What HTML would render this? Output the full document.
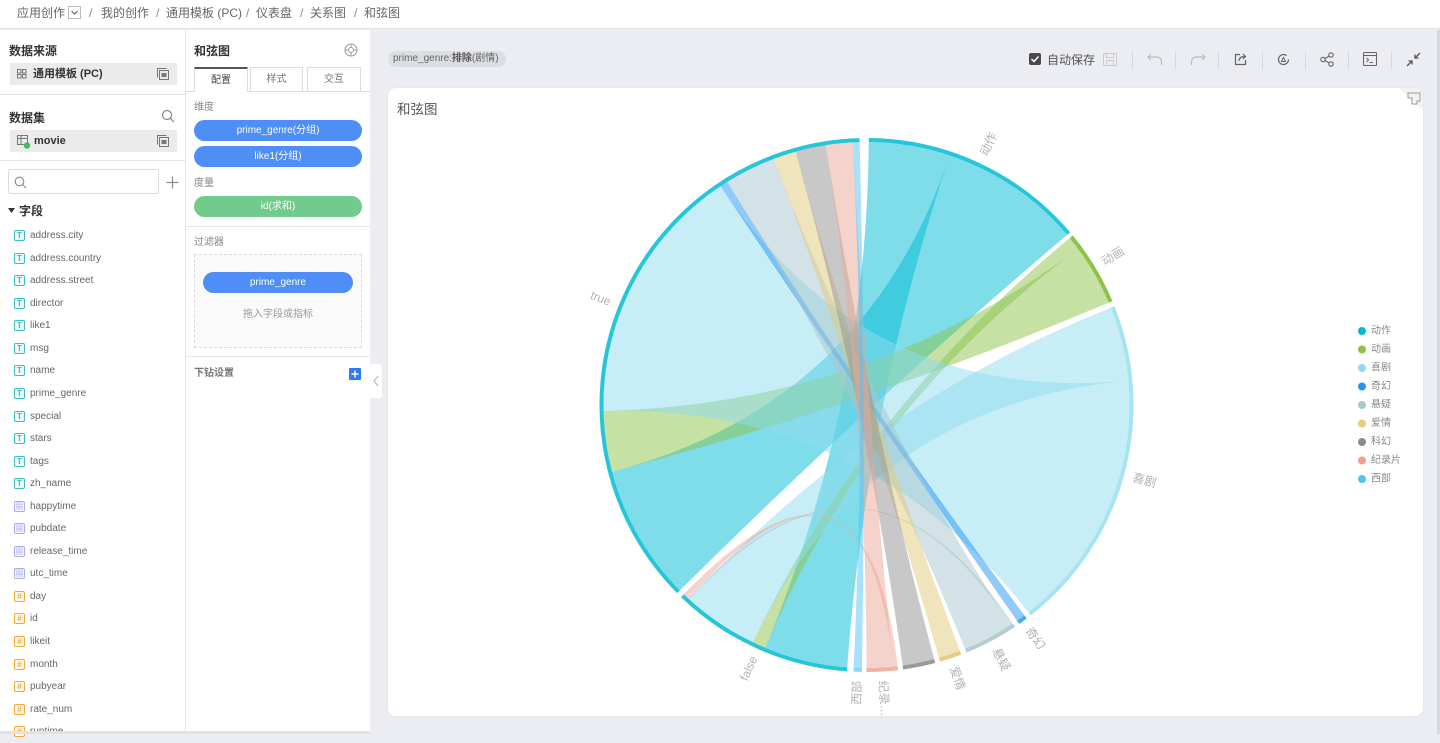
<!DOCTYPE html>
<html><head><meta charset="utf-8">
<style>
*{margin:0;padding:0;box-sizing:border-box}
body{width:1440px;height:734px;overflow:hidden;background:#ebedf2;font-family:"Liberation Sans","Noto Sans CJK SC",sans-serif;position:relative;color:#555}
.a{position:absolute;white-space:nowrap}
.t12{font-size:12px;line-height:14px}
.t11{font-size:11px;line-height:14px}
.t10{font-size:10px;line-height:14px}
.b{font-weight:bold}
.pill{position:absolute;border-radius:11px;color:#fff;font-size:10px;text-align:center;line-height:21px;height:21px}
.sep{position:absolute;height:1px;background:#e6e6e6}
.row{height:22.56px;display:flex;align-items:center;font-size:10px;color:#666}
.ic{width:11px;height:11px;border:1px solid;border-radius:2px;margin-left:14px;margin-right:5px;font-size:8px;line-height:9px;text-align:center;font-weight:bold}
.it{border-color:#3dbdbd;color:#3dbdbd;background:#eefafa}
.id{border-color:#aab0ea;color:#aab0ea;background:#f4f5fd}
.in{border-color:#f3a83a;color:#f3a83a;background:#fef7ec}
.vs{position:absolute;width:1px;height:17px;top:52px;background:#d6d8dc}
</style></head><body>

<!-- breadcrumb -->
<div class="a" style="left:0;top:0;width:1440px;height:29px;background:#fff;border-bottom:1px solid #e4e4e4"></div>
<div class="a t12" style="left:17px;top:6px;color:#666">应用创作</div>
<div class="a" style="left:68px;top:6px;width:13px;height:13px;border:1px solid #bbb;background:#fff"><svg width="11" height="11" style="position:absolute;left:0;top:0"><polyline points="2.5,4 5.5,7 8.5,4" fill="none" stroke="#666" stroke-width="1.2"/></svg></div>
<div class="a t12" style="left:89px;top:6px;color:#888">/</div>
<div class="a t12" style="left:101px;top:6px;color:#666">我的创作</div>
<div class="a t12" style="left:156px;top:6px;color:#888">/</div>
<div class="a t12" style="left:166px;top:6px;color:#666">通用模板 (PC)</div>
<div class="a t12" style="left:246px;top:6px;color:#888">/</div>
<div class="a t12" style="left:256px;top:6px;color:#666">仪表盘</div>
<div class="a t12" style="left:300px;top:6px;color:#888">/</div>
<div class="a t12" style="left:310px;top:6px;color:#666">关系图</div>
<div class="a t12" style="left:354px;top:6px;color:#888">/</div>
<div class="a t12" style="left:364px;top:6px;color:#666">和弦图</div>

<!-- left panel -->
<div class="a" style="left:0;top:30px;width:186px;height:704px;background:#fff;border-right:1px solid #e4e4e4"></div>
<div class="a t12 b" style="left:9px;top:44px;color:#333">数据来源</div>
<div class="a" style="left:10px;top:63px;width:167px;height:22px;background:#ebebeb"></div>
<svg class="a" style="left:17px;top:69px" width="10" height="10"><g fill="none" stroke="#777" stroke-width="1"><rect x="0.5" y="0.5" width="3.5" height="3.5"/><rect x="5.5" y="0.5" width="3.5" height="3.5"/><rect x="0.5" y="5.5" width="3.5" height="3.5"/><rect x="5.5" y="5.5" width="3.5" height="3.5"/></g></svg>
<div class="a t11 b" style="left:33px;top:67px;color:#333">通用模板 (PC)</div>
<svg class="a" style="left:157px;top:68px" width="12" height="12"><g fill="none" stroke="#777"><rect x="2.5" y="2.5" width="9" height="9"/><path d="M0.5 9.5V0.5H9.5"/></g><rect x="4.5" y="5" width="5" height="4" fill="#777"/></svg>
<div class="sep" style="left:0;top:94px;width:185px"></div>
<div class="a t12 b" style="left:9px;top:111px;color:#333">数据集</div>
<svg class="a" style="left:161px;top:109px" width="14" height="14"><circle cx="6" cy="6" r="4.5" fill="none" stroke="#888" stroke-width="1.2"/><line x1="9.3" y1="9.3" x2="13" y2="13" stroke="#888" stroke-width="1.2"/></svg>
<div class="a" style="left:10px;top:130px;width:167px;height:22px;background:#ebebeb"></div>
<svg class="a" style="left:17px;top:135px" width="14" height="14"><rect x="0.5" y="0.5" width="10" height="9" fill="none" stroke="#777"/><line x1="0.5" y1="3.5" x2="10.5" y2="3.5" stroke="#777"/><line x1="4" y1="0.5" x2="4" y2="9.5" stroke="#777"/><circle cx="10" cy="10.5" r="3.2" fill="#3cba5c"/></svg>
<div class="a t11 b" style="left:34px;top:134px;color:#333">movie</div>
<svg class="a" style="left:157px;top:135px" width="12" height="12"><g fill="none" stroke="#777"><rect x="2.5" y="2.5" width="9" height="9"/><path d="M0.5 9.5V0.5H9.5"/></g><rect x="4.5" y="5" width="5" height="4" fill="#777"/></svg>
<div class="sep" style="left:0;top:160px;width:185px"></div>
<div class="a" style="left:8px;top:169px;width:151px;height:25px;border:1px solid #dcdcdc;border-radius:2px"></div>
<svg class="a" style="left:14px;top:176px" width="13" height="13"><circle cx="5.5" cy="5.5" r="4.3" fill="none" stroke="#888" stroke-width="1.1"/><line x1="8.6" y1="8.6" x2="12" y2="12" stroke="#888" stroke-width="1.1"/></svg>
<svg class="a" style="left:166px;top:176px" width="13" height="13"><line x1="6.5" y1="0.5" x2="6.5" y2="12.5" stroke="#888" stroke-width="1.2"/><line x1="0.5" y1="6.5" x2="12.5" y2="6.5" stroke="#888" stroke-width="1.2"/></svg>
<svg class="a" style="left:8px;top:208px" width="8" height="6"><polygon points="0,0 7,0 3.5,5" fill="#333"/></svg>
<div class="a t12 b" style="left:19px;top:204px;color:#333">字段</div>

<div class="a" style="left:0;top:224.4px;width:185px">
<div class="row"><span class="ic it">T</span>address.city</div>
<div class="row"><span class="ic it">T</span>address.country</div>
<div class="row"><span class="ic it">T</span>address.street</div>
<div class="row"><span class="ic it">T</span>director</div>
<div class="row"><span class="ic it">T</span>like1</div>
<div class="row"><span class="ic it">T</span>msg</div>
<div class="row"><span class="ic it">T</span>name</div>
<div class="row"><span class="ic it">T</span>prime_genre</div>
<div class="row"><span class="ic it">T</span>special</div>
<div class="row"><span class="ic it">T</span>stars</div>
<div class="row"><span class="ic it">T</span>tags</div>
<div class="row"><span class="ic it">T</span>zh_name</div>
<div class="row"><span class="ic id">▦</span>happytime</div>
<div class="row"><span class="ic id">▦</span>pubdate</div>
<div class="row"><span class="ic id">▦</span>release_time</div>
<div class="row"><span class="ic id">▦</span>utc_time</div>
<div class="row"><span class="ic in">#</span>day</div>
<div class="row"><span class="ic in">#</span>id</div>
<div class="row"><span class="ic in">#</span>likeit</div>
<div class="row"><span class="ic in">#</span>month</div>
<div class="row"><span class="ic in">#</span>pubyear</div>
<div class="row"><span class="ic in">#</span>rate_num</div>
<div class="row"><span class="ic in">#</span>runtime</div>
</div>

<!-- middle panel -->
<div class="a" style="left:186px;top:30px;width:184px;height:704px;background:#fff"></div>
<div class="a t12 b" style="left:194px;top:44px;color:#333">和弦图</div>
<svg class="a" style="left:344px;top:43px" width="14" height="14"><circle cx="7" cy="7" r="6" fill="none" stroke="#999"/><circle cx="7" cy="7" r="2.5" fill="none" stroke="#999"/><path d="M7 1V4.5M7 9.5V13M1 7H4.5M9.5 7H13" stroke="#999"/></svg>
<div class="sep" style="left:186px;top:91px;width:184px;background:#ddd"></div>
<div class="a t10" style="left:194px;top:67px;width:54px;height:25px;background:#fff;border:1px solid #ddd;border-top:2px solid #555;border-bottom:none;text-align:center;line-height:23px;color:#444">配置</div>
<div class="a t10" style="left:250px;top:67px;width:53px;height:24px;background:#fff;border:1px solid #ddd;border-bottom:none;text-align:center;line-height:23px;color:#777">样式</div>
<div class="a t10" style="left:307px;top:67px;width:54px;height:24px;background:#fff;border:1px solid #ddd;border-bottom:none;text-align:center;line-height:23px;color:#777">交互</div>
<div class="a t10" style="left:194px;top:101px;color:#888">维度</div>
<div class="pill" style="left:194px;top:120px;width:168px;background:#4f8ef6">prime_genre(分组)</div>
<div class="pill" style="left:194px;top:146px;width:168px;background:#4f8ef6">like1(分组)</div>
<div class="a t10" style="left:194px;top:177px;color:#888">度量</div>
<div class="pill" style="left:194px;top:196px;width:168px;background:#70cb8c">id(求和)</div>
<div class="sep" style="left:186px;top:226px;width:184px"></div>
<div class="a t10" style="left:194px;top:236px;color:#888">过滤器</div>
<div class="a" style="left:194px;top:254px;width:168px;height:94px;border:1px dashed #dcdcdc;background:#fafafa"></div>
<div class="pill" style="left:203px;top:272px;width:150px;background:#4f8ef6">prime_genre</div>
<div class="a t10" style="left:194px;top:308px;width:168px;text-align:center;color:#999">拖入字段或指标</div>
<div class="sep" style="left:186px;top:356px;width:184px"></div>
<div class="a t10 b" style="left:194px;top:367px;color:#777">下钻设置</div>
<div class="a" style="left:349px;top:368px;width:12px;height:12px;background:#2f7cf0;border-radius:1px"><svg width="12" height="12" style="position:absolute;left:0;top:0"><path d="M6 2.5V9.5M2.5 6H9.5" stroke="#fff" stroke-width="1.4"/></svg></div>
<div class="a" style="left:370px;top:364px;width:12px;height:34px;background:#fff;border-radius:0 3px 3px 0"><svg width="12" height="34" style="position:absolute;left:0;top:0"><polyline points="8,12 4,17 8,22" fill="none" stroke="#aaa" stroke-width="1"/></svg></div>
<div class="a" style="left:0;top:731px;width:370px;height:3px;background:#e2e2e4"></div>

<!-- filter tag -->
<div class="a t10" style="left:388px;top:51px;width:118px;height:16px;background:#dcdee3;border-radius:8px;line-height:16px;padding-left:5px;color:#666">prime_genre:<b style="color:#555">排除</b>(剧情)</div>

<!-- toolbar -->
<div class="a" style="left:1029px;top:53px;width:12px;height:12px;background:#4a4a4a;border-radius:2px"><svg width="12" height="12" style="position:absolute;left:0;top:0"><polyline points="2.5,6 5,8.5 9.5,3.5" fill="none" stroke="#fff" stroke-width="1.5"/></svg></div>
<div class="a t12" style="left:1047px;top:53px;color:#555">自动保存</div>
<svg class="a" style="left:1103px;top:53px" width="14" height="13"><rect x="0.5" y="0.5" width="13" height="12" rx="1" fill="none" stroke="#ccc"/><rect x="3.5" y="0.5" width="7" height="4" fill="none" stroke="#ccc"/><rect x="3.5" y="7.5" width="7" height="5" fill="none" stroke="#ccc"/></svg>
<div class="vs" style="left:1132px"></div>
<svg class="a" style="left:1147px;top:53px" width="16" height="13"><path d="M4 1L1 4L4 7M1 4H10C13 4 14.5 6.5 14.5 9V12" fill="none" stroke="#bbb" stroke-width="1.2"/></svg>
<div class="vs" style="left:1175px"></div>
<svg class="a" style="left:1190px;top:53px" width="16" height="13"><path d="M12 1L15 4L12 7M15 4H6C3 4 1.5 6.5 1.5 9V12" fill="none" stroke="#bbb" stroke-width="1.2"/></svg>
<div class="vs" style="left:1218px"></div>
<svg class="a" style="left:1234px;top:52px" width="14" height="14"><path d="M6 2.5H1.5V12.5H11.5V8" fill="none" stroke="#666" stroke-width="1.2"/><path d="M5 9C5 5.5 7.5 4.5 11 4.5M9 2L11.5 4.5L9 7" fill="none" stroke="#666" stroke-width="1.2"/></svg>
<div class="vs" style="left:1262px"></div>
<svg class="a" style="left:1277px;top:53px" width="13" height="13"><path d="M11.5 6.5A5 5 0 1 1 9.5 2.5" fill="none" stroke="#666" stroke-width="1.2"/><path d="M4.5 8.5L6.5 4.5L8.5 8.5Z" fill="none" stroke="#666"/></svg>
<div class="vs" style="left:1305px"></div>
<svg class="a" style="left:1320px;top:52px" width="14" height="15"><circle cx="3" cy="7.5" r="2.2" fill="none" stroke="#666" stroke-width="1.1"/><circle cx="11" cy="3" r="2.2" fill="none" stroke="#666" stroke-width="1.1"/><circle cx="11" cy="12" r="2.2" fill="none" stroke="#666" stroke-width="1.1"/><path d="M5 6.4L9 4.1M5 8.6L9 10.9" stroke="#666" stroke-width="1.1"/></svg>
<div class="vs" style="left:1348px"></div>
<svg class="a" style="left:1363px;top:52px" width="14" height="14"><rect x="0.5" y="0.5" width="13" height="13" rx="1" fill="none" stroke="#666" stroke-width="1.1"/><line x1="0.5" y1="3.5" x2="13.5" y2="3.5" stroke="#666"/><path d="M3.5 6L5.5 8L3.5 10M6.5 10.5H10" fill="none" stroke="#666"/></svg>
<div class="vs" style="left:1391px"></div>
<svg class="a" style="left:1406px;top:52px" width="15" height="15"><path d="M14 1L9 6M9 2.5V6H12.5M1 14L6 9M6 12.5V9H2.5" fill="none" stroke="#555" stroke-width="1.3"/></svg>
<div class="a" style="left:1437px;top:30px;width:3px;height:704px;background:#d6d8dc"></div>

<!-- chart card -->
<div class="a" style="left:388px;top:88px;width:1035px;height:628px;background:#fff;border-radius:8px;overflow:hidden;box-shadow:0 0 2px rgba(0,0,0,0.06)">
<svg width="1440" height="734" style="position:absolute;left:-388px;top:-88px">
<text x="397" y="114" font-size="13.5" fill="#555" font-family="Liberation Sans, Noto Sans CJK SC, sans-serif">和弦图</text>
<g id="rib"></g>
<g id="band" fill="none" stroke-width="4"></g>
<g font-size="12" fill="#b3b3b3" font-family="Liberation Sans, Noto Sans CJK SC, sans-serif" dominant-baseline="central">
<text transform="translate(983.6,155.1) rotate(-64.9)">动作</text>
<text transform="translate(1102.7,262.3) rotate(-31.15)">动画</text>
<text transform="translate(1132.9,477.1) rotate(15.15)">喜剧</text>
<text transform="translate(1028.3,628.6) rotate(54.1)">奇幻</text>
<text transform="translate(995.6,648.9) rotate(62.1)">悬疑</text>
<text transform="translate(953.6,666.9) rotate(71.6)">爱情</text>
<text transform="translate(882.9,680.5) rotate(86.6)">纪录…</text>
<text transform="translate(857.3,680.9) rotate(-88.1)" text-anchor="end">西部</text>
<text transform="translate(753.8,656.9) rotate(-65.9)" text-anchor="end">false</text>
<text transform="translate(610.3,302.3) rotate(21.85)" text-anchor="end">true</text>
</g>
<g font-size="10" fill="#888" font-family="Liberation Sans, Noto Sans CJK SC, sans-serif" dominant-baseline="central">
<circle cx="1362" cy="331" r="4" fill="#00bcd4"/><text x="1371" y="331">动作</text>
<circle cx="1362" cy="349.5" r="4" fill="#8bc34a"/><text x="1371" y="349.5">动画</text>
<circle cx="1362" cy="368" r="4" fill="#90dcef"/><text x="1371" y="368">喜剧</text>
<circle cx="1362" cy="386.5" r="4" fill="#2196f3"/><text x="1371" y="386.5">奇幻</text>
<circle cx="1362" cy="405" r="4" fill="#a7c8ce"/><text x="1371" y="405">悬疑</text>
<circle cx="1362" cy="423.5" r="4" fill="#e6cc7c"/><text x="1371" y="423.5">爱情</text>
<circle cx="1362" cy="442" r="4" fill="#8c8c8c"/><text x="1371" y="442">科幻</text>
<circle cx="1362" cy="460.5" r="4" fill="#f2a08e"/><text x="1371" y="460.5">纪录片</text>
<circle cx="1362" cy="479" r="4" fill="#4fc3f7"/><text x="1371" y="479">西部</text>
</g>
<path d="M1399 88H1423V111C1416 103 1407 95 1399 88Z" fill="#f2f2f4"/>
<path d="M1408 93H1420V101H1417V104H1412V98H1408Z" fill="none" stroke="#999" stroke-width="1"/>
</svg>
</div>

<script>
(function(){
var cx=866.5,cy=405,R=263,RB=265;
function P(a,r){var t=a*Math.PI/180;return (cx+r*Math.sin(t)).toFixed(2)+','+(cy-r*Math.cos(t)).toFixed(2);}
function rib(s0,s1,t0,t1){return 'M'+P(s0,R)+' A'+R+','+R+' 0 0 1 '+P(s1,R)+' Q'+cx+','+cy+' '+P(t0,R)+' A'+R+','+R+' 0 0 1 '+P(t1,R)+' Q'+cx+','+cy+' '+P(s0,R)+' Z';}
function arc(a0,a1){return 'M'+P(a0,RB)+' A'+RB+','+RB+' 0 '+((a1-a0)>180?1:0)+' 1 '+P(a1,RB);}
var ribs=[
[0.5,18.4,184.2,202.6,'#00bcd4'],
[18.4,49.7,225.2,255.3,'#00bcd4'],
[50.6,53.6,202.6,205.6,'#8bc34a'],
[53.6,67.1,255.3,268.7,'#8bc34a'],
[68.3,84.7,205.6,222.2,'#90dcef'],
[84.7,142.0,268.7,326.3,'#90dcef'],
[143.1,145.1,326.3,328.0,'#2196f3'],
[146.2,146.8,222.2,222.8,'#a7c5cd'],
[146.8,158.0,328.0,339.4,'#a7c5cd'],
[159.2,164.0,339.4,344.4,'#e1c979'],
[165.1,172.1,344.4,351.1,'#919191'],
[173.2,174.2,222.8,224.0,'#eba797'],
[174.2,180.0,351.1,357.0,'#eba797'],
[181.0,182.8,357.0,358.5,'#4fc3f7']
];
var h='';
for(var i=0;i<ribs.length;i++){var r=ribs[i];h+='<path d="'+rib(r[0],r[1],r[2],r[3])+'" fill="'+r[4]+'" fill-opacity="0.5"/>';}
document.getElementById('rib').innerHTML=h;
var bands=[
[0.5,49.7,'#26c6da'],[50.6,67.1,'#8bc34a'],[68.3,142,'#a6e4f2'],[143.1,145.1,'#4aa8f4'],
[146.2,158,'#b4cdd2'],[159.2,164,'#e2cd84'],[165.1,172.1,'#999999'],[173.2,180,'#f1b1a3'],
[181,182.8,'#8ad6f8'],[184.2,224,'#26c6da'],[225.2,358.5,'#26c6da']
];
var b='';
for(var j=0;j<bands.length;j++){var q=bands[j];b+='<path d="'+arc(q[0],q[1])+'" stroke="'+q[2]+'"/>';}
document.getElementById('band').innerHTML=b;
})();
</script>
</body></html>
